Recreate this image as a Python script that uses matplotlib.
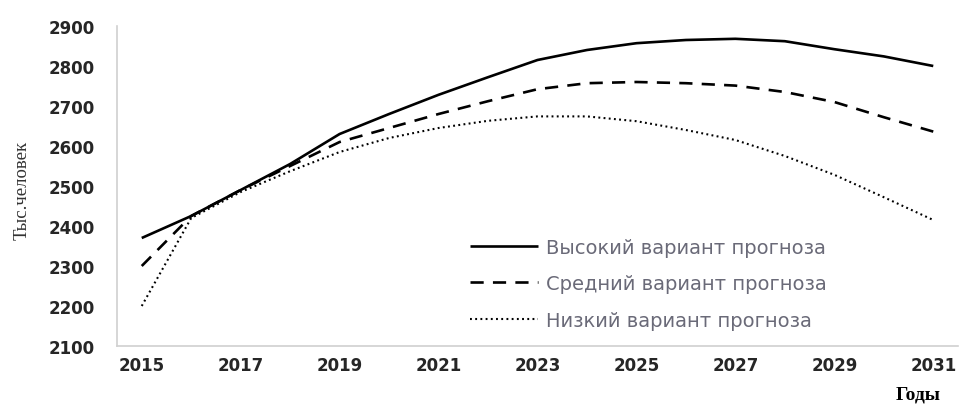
import matplotlib
matplotlib.use("Agg")
import matplotlib.pyplot as plt

years = list(range(2015, 2032))
high = [2370, 2425, 2490, 2555, 2630, 2680, 2728, 2772, 2815, 2840, 2857, 2865, 2868, 2862, 2842, 2824, 2800]
medium = [2300, 2425, 2490, 2550, 2610, 2645, 2680, 2712, 2742, 2757, 2760, 2757, 2751, 2735, 2710, 2672, 2636]
low = [2200, 2420, 2485, 2537, 2585, 2620, 2645, 2663, 2674, 2674, 2662, 2640, 2615, 2575, 2528, 2472, 2415]
labels = ["Высокий вариант прогноза", "Средний вариант прогноза", "Низкий вариант прогноза"]
xticks = list(range(2015, 2032, 2))
yticks = list(range(2100, 3000, 100))

fig = plt.figure(figsize=(9.61, 4.06), dpi=100)
ax = fig.add_axes([117/961, 1-347/406, (958-117)/961, (347-27)/406])

ax.plot(years, high, color="black", lw=1.9, solid_capstyle="butt", label=labels[0])
ax.plot(years, medium, color="black", lw=1.9, dashes=(5, 3.5), label=labels[1])
ax.plot(years, low, color="black", lw=1.5, dashes=(0.9, 1.6), label=labels[2])

ax.set_xlim(2014.5, 2031.5)
ax.set_ylim(2100, 2900)
ax.set_xticks(xticks)
ax.set_yticks(yticks)
ax.tick_params(length=0, labelsize=12, labelcolor="#262626")
ax.tick_params(axis="x", pad=7)
ax.tick_params(axis="y", pad=16)
for lab in ax.get_xticklabels() + ax.get_yticklabels():
    lab.set_fontweight("bold")
for s in ["top", "right"]:
    ax.spines[s].set_visible(False)
for s in ["left", "bottom"]:
    ax.spines[s].set_color("#d0d0d0")
    ax.spines[s].set_linewidth(1.2)

leg = ax.legend(loc="upper left", bbox_to_anchor=((462-117)/841, (347-231)/320), frameon=False,
                fontsize=14, handlelength=3.5, labelspacing=0.9, handletextpad=0.4, borderaxespad=0)
for t in leg.get_texts():
    t.set_color("#6a6a78")

fig.text(22/961, 1-190/406, "Тыс.человек", rotation=90, ha="center", va="center",
         family="Liberation Serif", fontsize=13.5, color="#333333")
fig.text(896/961, 2/406, "Годы", ha="left", va="bottom", family="Liberation Serif",
         fontsize=14, fontweight="bold", color="black")

fig.savefig("out.png", dpi=100)
